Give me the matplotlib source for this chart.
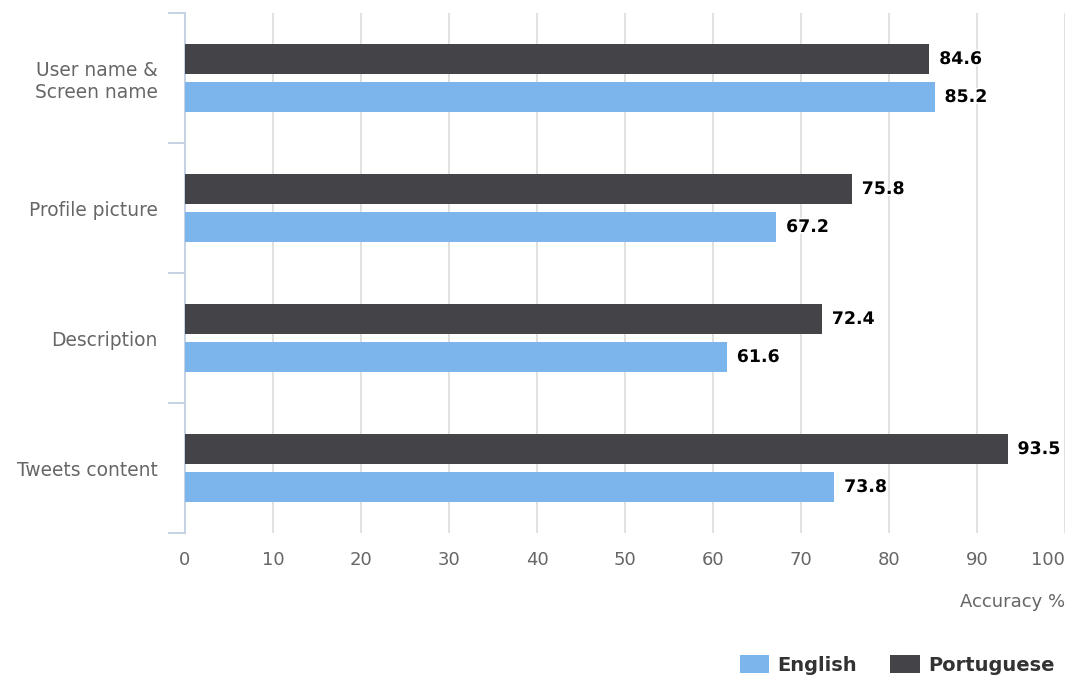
import numpy as np
import matplotlib.pyplot as plt
import matplotlib.patheffects as pe
from matplotlib.patches import Patch

# Accuracy per profile feature, two languages
features = ["User name &\nScreen name", "Profile picture", "Description", "Tweets content"]
portuguese = [84.6, 75.8, 72.4, 93.5]
english = [85.2, 67.2, 61.6, 73.8]

blue = "#7cb5ec"
dark = "#434348"
label_grey = "#666666"
axis_col = "#c4d2e4"

plt.rcParams["font.family"] = "DejaVu Sans"

fig = plt.figure(figsize=(10.69, 6.80), dpi=100)
ax = fig.add_axes([185 / 1069, 1 - 533 / 680, 880 / 1069, 520 / 680])

y = np.arange(len(features))
h = 0.23
off = 0.146
ax.barh(y - off, portuguese, height=h, color=dark, zorder=3)
ax.barh(y + off, english, height=h, color=blue, zorder=3)

halo = [pe.withStroke(linewidth=2.5, foreground="white")]
for yi, p, e in zip(y, portuguese, english):
    ax.annotate(f"{p}", (p, yi - off), xytext=(7, 0), textcoords="offset points",
                va="center", ha="left", fontsize=12.5, fontweight="bold",
                color="black", path_effects=halo, zorder=4)
    ax.annotate(f"{e}", (e, yi + off), xytext=(7, 0), textcoords="offset points",
                va="center", ha="left", fontsize=12.5, fontweight="bold",
                color="black", path_effects=halo, zorder=4)

ax.set_xlim(0, 100)
ax.set_ylim(len(features) - 0.5, -0.5)
ax.set_xticks(np.arange(0, 101, 10))
ax.set_yticks(y)
ax.set_yticklabels(features)
ax.set_yticks(np.arange(-0.5, len(features)), minor=True)

ax.grid(axis="x", color="#dcdcdc", linewidth=1.2, zorder=0)
ax.tick_params(axis="x", length=0, pad=13, labelsize=13, labelcolor=label_grey)
ax.tick_params(axis="y", which="major", length=0, pad=19.5, labelsize=13.4,
               labelcolor=label_grey)
ax.tick_params(axis="y", which="minor", length=12, width=1.4, color=axis_col)

# keep the last tick label inside the figure
xt = ax.get_xticklabels()
xt[-1].set_horizontalalignment("right")
xt[-1].set_x(0.998)

for side in ["top", "right", "bottom"]:
    ax.spines[side].set_visible(False)
ax.spines["left"].set_color(axis_col)
ax.spines["left"].set_linewidth(1.5)

ax.set_xlabel("Accuracy %", loc="right", fontsize=13, color=label_grey, labelpad=17)

handles = [Patch(facecolor=blue, label="English"), Patch(facecolor=dark, label="Portuguese")]
leg = fig.legend(handles=handles, loc="center right",
                 bbox_to_anchor=(1055 / 1069, 1 - 665 / 680), ncol=2, frameon=False,
                 prop={"weight": "bold", "size": 14}, handlelength=1.5,
                 handleheight=1.03, handletextpad=0.46, columnspacing=1.7,
                 borderpad=0, borderaxespad=0)
for t in leg.get_texts():
    t.set_color("#333333")

fig.savefig("out.png", dpi=100)
